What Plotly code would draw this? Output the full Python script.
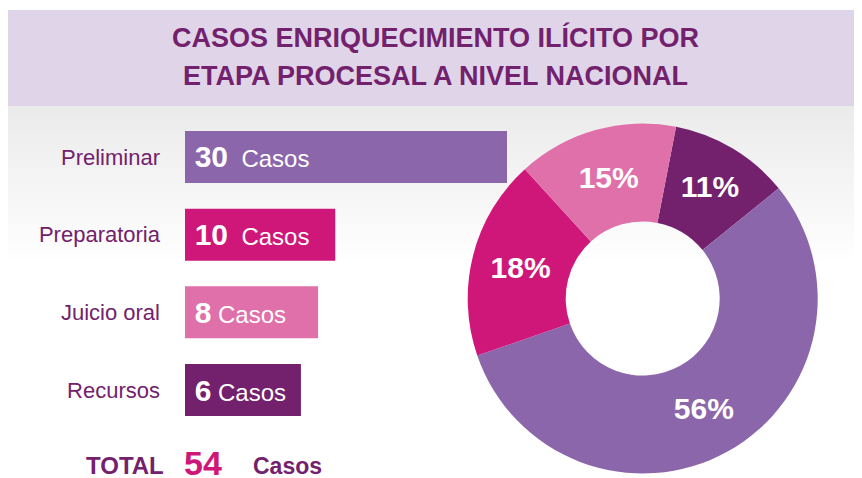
import plotly.graph_objects as go

# ---------------- data ----------------
STAGES = ["Preliminar", "Preparatoria", "Juicio oral", "Recursos"]
CASES = [30, 10, 8, 6]
PIE_ORDER = ["Recursos", "Preliminar", "Preparatoria", "Juicio oral"]   # clockwise order in donut
PIE_LABELS = {"Preliminar": "56%", "Preparatoria": "18%", "Juicio oral": "15%", "Recursos": "11%"}
TITLE_LINES = ["CASOS ENRIQUECIMIENTO ILÍCITO POR", "ETAPA PROCESAL A NIVEL NACIONAL"]
UNIT = "Casos"
TOTAL_LABEL = "TOTAL"

# ---------------- style ----------------
W, H = 862, 478          # browser window
OFF = 8                  # default page (body) margin of the html page
FW, FH = W - OFF, H - OFF
COLORS = {"Preliminar": "#8c66ab", "Preparatoria": "#cf1779",
          "Juicio oral": "#e070aa", "Recursos": "#73216d"}
DARK = "#73216d"
MAGENTA = "#cf1779"
SANS = "Liberation Sans, Arial, sans-serif"
AXIS_START = -7.5  # truncated value axis (bars drawn from the axis edge)


def fx(px):
    return (px - OFF) / FW


def fy(py):
    return 1 - (py - OFF) / FH


fig = go.Figure()

# bars
bar_text = []
for v in CASES:
    gap = "\u00a0\u00a0" if v >= 10 else "\u00a0"
    bar_text.append(
        f"\u00a0<span style='font-weight:bold;font-size:30px'>{v}</span>{gap}{UNIT}")

fig.add_trace(go.Bar(
    y=STAGES,
    x=[v - AXIS_START for v in CASES],
    base=AXIS_START,
    orientation="h",
    width=0.67,
    marker=dict(color=[COLORS[s] for s in STAGES], line=dict(width=0)),
    text=bar_text,
    textposition="inside",
    insidetextanchor="start",
    insidetextfont=dict(color="white", size=24, family=SANS),
    hoverinfo="skip",
    showlegend=False,
))

# donut
fig.add_trace(go.Pie(
    labels=PIE_ORDER,
    values=[CASES[STAGES.index(s)] for s in PIE_ORDER],
    text=[PIE_LABELS[s] for s in PIE_ORDER],
    textinfo="text",
    hole=0.44,
    sort=False,
    direction="clockwise",
    rotation=11,
    marker=dict(colors=[COLORS[s] for s in PIE_ORDER], line=dict(width=0)),
    textposition="inside",
    insidetextorientation="horizontal",
    textfont=dict(color="white", size=30, family=SANS, weight="bold"),
    domain=dict(x=[fx(642.7 - 175), fx(642.7 + 175)], y=[fy(298.5 + 175), fy(298.5 - 175)]),
    showlegend=False,
    hoverinfo="skip",
))

# background shapes
shapes = []
shapes.append(dict(type="rect", xref="paper", yref="paper", layer="below",
                   x0=0, x1=1, y0=fy(106), y1=fy(10),
                   fillcolor="#e0d4e8", line=dict(width=0)))
N = 40
top, bottom = 106, 262
for i in range(N):
    y0 = top + (bottom - top) * i / N
    y1 = top + (bottom - top) * (i + 1) / N
    c = int(235 + (255 - 235) * i / (N - 1))
    shapes.append(dict(type="rect", xref="paper", yref="paper", layer="below",
                       x0=0, x1=1, y0=fy(y1 + 0.5), y1=fy(y0),
                       fillcolor=f"rgb({c},{c},{c})", line=dict(width=0)))

annotations = []
for text, yc in zip(TITLE_LINES, [37, 76]):
    annotations.append(dict(text=f"<b>{text}</b>", x=fx(435), y=fy(yc), xref="paper", yref="paper",
                            xanchor="center", yanchor="middle", showarrow=False,
                            font=dict(family=SANS, size=27, color=DARK)))

total = sum(CASES)
annotations.append(dict(text=f"<b>{TOTAL_LABEL}</b>", x=fx(84), y=fy(465), xref="paper", yref="paper",
                        xanchor="left", yanchor="middle", showarrow=False,
                        font=dict(family=SANS, size=24, color=DARK)))
annotations.append(dict(text=f"<b>{total}</b>", x=fx(182), y=fy(463), xref="paper", yref="paper",
                        xanchor="left", yanchor="middle", showarrow=False,
                        font=dict(family=SANS, size=34, color=MAGENTA)))
annotations.append(dict(text=f"<b>{UNIT}</b>", x=fx(251), y=fy(466), xref="paper", yref="paper",
                        xanchor="left", yanchor="middle", showarrow=False,
                        font=dict(family=SANS, size=23, color=DARK)))

fig.update_layout(
    width=FW, height=FH,
    margin=dict(l=0, r=0, t=0, b=0),
    paper_bgcolor="white",
    plot_bgcolor="rgba(0,0,0,0)",
    shapes=shapes,
    annotations=annotations,
    xaxis=dict(domain=[fx(185), fx(507)], range=[AXIS_START, 30], visible=False, fixedrange=True),
    yaxis=dict(domain=[fy(428.85), fy(118.15)], autorange="reversed", showgrid=False,
               zeroline=False, showline=False, ticks="", ticklabelstandoff=24,
               tickfont=dict(family=SANS, size=22, color=DARK)),
    uniformtext=dict(minsize=8),
)

fig.write_html("out.html")
